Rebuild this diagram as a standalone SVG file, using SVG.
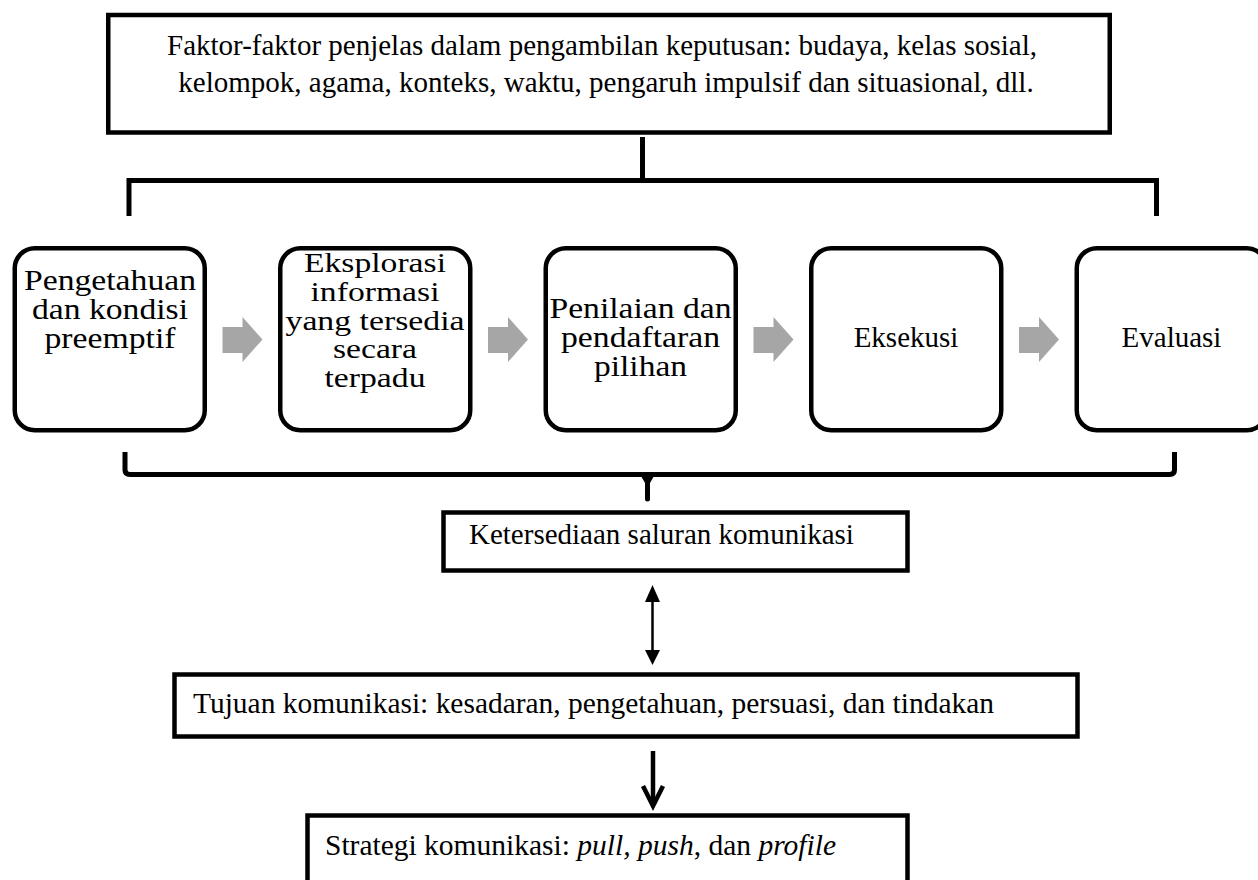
<svg xmlns="http://www.w3.org/2000/svg" width="1258" height="880" viewBox="0 0 1258 880">
<style>
  .box { fill: #ffffff; stroke: #000000; stroke-width: 4.5; }
  .rbox { fill: #ffffff; stroke: #000000; stroke-width: 4.5; }
  .t { font-family: "Liberation Serif", "Times New Roman", serif; font-size: 29px; fill: #000000; }
  .s { font-size: 27px; }
  .c { text-anchor: middle; }
  .line { fill: none; stroke: #000000; stroke-width: 5; }
  .gray { fill: #a6a6a6; }
</style>
<defs>
  <polygon id="garrow" points="0,327 20,327 20,317 40,339.5 20,362 20,353 0,353" class="gray"/>
</defs>
<rect width="1258" height="880" fill="#ffffff"/>

<g id="connectors">
  <path class="line" d="M642.5 137 V180.5"/>
  <path class="line" d="M129 216 V180.5 H1156.5 V216"/>
  <path class="line" d="M125 452 V470 Q125 474.5 130 474.5 H1169.5 Q1174.5 474.5 1174.5 470 V452"/>
  <path d="M647.5 476 V499" stroke="#000" stroke-width="5" stroke-linecap="round" fill="none"/>
  <polygon points="641,476 654,476 650,483 645,483" fill="#000"/>
  <use href="#garrow" x="222.5"/>
  <use href="#garrow" x="488"/>
  <use href="#garrow" x="753.5"/>
  <use href="#garrow" x="1019"/>
  <line x1="652.5" y1="600" x2="652.5" y2="652" stroke="#000" stroke-width="2.5"/>
  <polygon points="652.5,585 645,602 660,602" fill="#000"/>
  <polygon points="652.5,665 645,650 660,650" fill="#000"/>
  <line x1="653" y1="751" x2="653" y2="804" stroke="#000" stroke-width="4.5"/>
  <path d="M643 786 L653 806 L663 786" fill="none" stroke="#000" stroke-width="4.5" stroke-linejoin="miter"/>
</g>

<g id="node-faktor">
  <rect class="box" x="108.25" y="15" width="1001.5" height="117.5"/>
  <text class="t c" x="602" y="54.5">Faktor-faktor penjelas dalam pengambilan keputusan: budaya, kelas sosial,</text>
  <text class="t c" x="606" y="92">kelompok, agama, konteks, waktu, pengaruh impulsif dan situasional, dll.</text>
</g>

<g id="node-pengetahuan">
  <rect class="rbox" x="14.75" y="248.25" width="190" height="182" rx="20"/>
  <text class="t c" x="110" y="290" textLength="172" lengthAdjust="spacingAndGlyphs">Pengetahuan</text>
  <text class="t c" x="110" y="319" textLength="156" lengthAdjust="spacingAndGlyphs">dan kondisi</text>
  <text class="t c" x="110" y="348" textLength="131" lengthAdjust="spacingAndGlyphs">preemptif</text>
</g>

<g id="node-eksplorasi">
  <rect class="rbox" x="280.25" y="248.25" width="190" height="182" rx="20"/>
  <text class="t s c" x="375" y="272" textLength="142" lengthAdjust="spacingAndGlyphs">Eksplorasi</text>
  <text class="t s c" x="375" y="300.75" textLength="129" lengthAdjust="spacingAndGlyphs">informasi</text>
  <text class="t s c" x="375" y="329.5" textLength="179" lengthAdjust="spacingAndGlyphs">yang tersedia</text>
  <text class="t s c" x="375" y="358.25" textLength="84" lengthAdjust="spacingAndGlyphs">secara</text>
  <text class="t s c" x="375" y="387" textLength="101" lengthAdjust="spacingAndGlyphs">terpadu</text>
</g>

<g id="node-penilaian">
  <rect class="rbox" x="545.75" y="248.25" width="190" height="182" rx="20"/>
  <text class="t c" x="640.5" y="318" textLength="182" lengthAdjust="spacingAndGlyphs">Penilaian dan</text>
  <text class="t c" x="640.5" y="347" textLength="159" lengthAdjust="spacingAndGlyphs">pendaftaran</text>
  <text class="t c" x="640.5" y="376" textLength="93" lengthAdjust="spacingAndGlyphs">pilihan</text>
</g>

<g id="node-eksekusi">
  <rect class="rbox" x="811.25" y="248.25" width="190" height="182" rx="20"/>
  <text class="t c" x="906" y="347">Eksekusi</text>
</g>

<g id="node-evaluasi">
  <rect class="rbox" x="1076.75" y="248.25" width="190" height="182" rx="20"/>
  <text class="t c" x="1171.5" y="347">Evaluasi</text>
</g>

<g id="node-ketersediaan">
  <rect class="box" x="443.5" y="512.5" width="464" height="58" stroke-width="5"/>
  <text class="t" x="469" y="544">Ketersediaan saluran komunikasi</text>
</g>

<g id="node-tujuan">
  <rect class="box" x="174.5" y="674.5" width="903" height="62" stroke-width="5"/>
  <text class="t" x="193" y="713" font-size="29.4" textLength="801" lengthAdjust="spacingAndGlyphs">Tujuan komunikasi: kesadaran, pengetahuan, persuasi, dan tindakan</text>
</g>

<g id="node-strategi">
  <rect class="box" x="307.5" y="815.5" width="600" height="100" stroke-width="5"/>
  <text class="t" x="325" y="855" font-size="29.4" textLength="511" lengthAdjust="spacingAndGlyphs">Strategi komunikasi: <tspan font-style="italic">pull,</tspan> <tspan font-style="italic">push</tspan>, dan <tspan font-style="italic">profile</tspan></text>
</g>
</svg>
